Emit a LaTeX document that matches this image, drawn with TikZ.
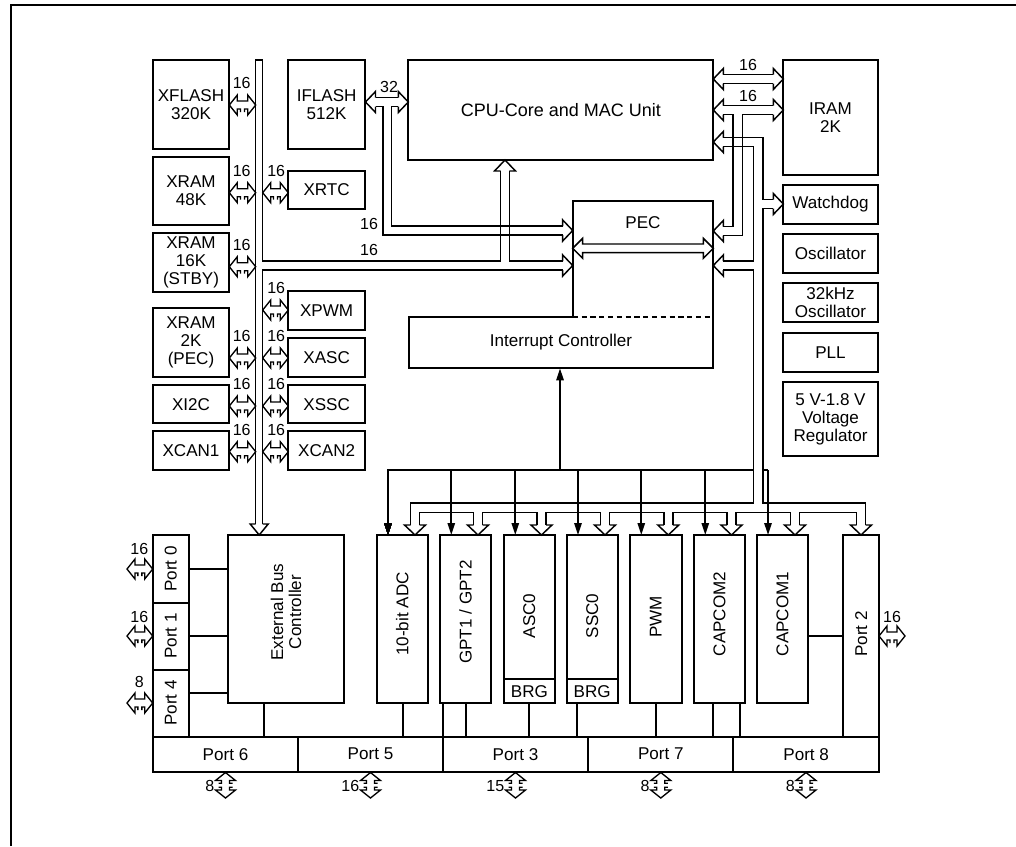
\documentclass[tikz,border=0pt]{standalone}
\usepackage{fontspec}
\setmainfont{Liberation Sans}
\usetikzlibrary{arrows.meta}
\newcommand\blk[6]{\node[blk,minimum width={((#4)-(#2))*0.75pt},minimum height={((#5)-(#3))*0.75pt}] (#1) at ({((#2)+(#4))/2},{((#3)+(#5))/2}) {#6};}
\newcommand\hdL[2]{\draw[bus] ({#1+10},{#2-4.5}) -- ({#1+10},{#2-10.5}) -- (#1,#2) -- ({#1+10},{#2+10.5}) -- ({#1+10},{#2+4.5});}
\newcommand\hdR[2]{\draw[bus] ({#1-10},{#2-4.5}) -- ({#1-10},{#2-10.5}) -- (#1,#2) -- ({#1-10},{#2+10.5}) -- ({#1-10},{#2+4.5});}
\newcommand\hdD[2]{\draw[bus] ({#1-4.5},{#2-10}) -- ({#1-10.5},{#2-10}) -- (#1,#2) -- ({#1+10.5},{#2-10}) -- ({#1+4.5},{#2-10});}
\newcommand\sah[3]{%
 \pgfmathsetmacro\sahm{(#1+#2)/2}
 \draw[sbus] ({\sahm-2},{#3+7}) -- ({\sahm-2},{#3+4}) -- ({#1+8},{#3+4}) -- ({#1+8},{#3+10}) -- (#1,#3) -- ({#1+8},{#3-10}) -- ({#1+8},{#3-4}) -- ({#2-8},{#3-4}) -- ({#2-8},{#3-10}) -- (#2,#3) -- ({#2-8},{#3+10}) -- ({#2-8},{#3+4}) -- ({\sahm+2},{#3+4}) -- ({\sahm+2},{#3+7});}
\newcommand\sav[3]{%
 \pgfmathsetmacro\savm{(#2+#3)/2}
 \draw[sbus] ({#1-7},{\savm-2}) -- ({#1-4},{\savm-2}) -- ({#1-4},{#2+8}) -- ({#1-10},{#2+8}) -- (#1,#2) -- ({#1+10},{#2+8}) -- ({#1+4},{#2+8}) -- ({#1+4},{\savm-2}) -- ({#1+7},{\savm-2});
 \draw[sbus] ({#1-7},{\savm+2}) -- ({#1-4},{\savm+2}) -- ({#1-4},{#3-8}) -- ({#1-10},{#3-8}) -- (#1,#3) -- ({#1+10},{#3-8}) -- ({#1+4},{#3-8}) -- ({#1+4},{\savm+2}) -- ({#1+7},{\savm+2});}
\begin{document}
\begin{tikzpicture}[x=0.75pt,y=-0.75pt,
  blk/.style={draw,line width=1.4pt,inner sep=0pt,outer sep=0pt,align=center,font=\fontsize{12.8}{13.4}\selectfont},
  nobox/.style={inner sep=0pt,align=center,font=\fontsize{12.8}{13.4}\selectfont},
  rot/.style={rotate=90,inner sep=0pt,align=center,font=\fontsize{12.8}{13.4}\selectfont},
  boxline/.style={line width=1.4pt},
  bus/.style={line width=1.1pt,line join=miter},
  sbus/.style={line width=1pt,line join=miter},
  lnk/.style={line width=1.3pt},
  irq/.style={line width=1.3pt,-{Triangle[length=9pt,width=5.5pt]}},
  lbl/.style={inner sep=0pt,font=\fontsize{12}{13}\selectfont}]
\useasboundingbox (0,0) rectangle (1016,846);
% frame
\draw[line width=1.5pt] (10.5,846) -- (10.5,5) -- (1016,5);
% left column
\blk{xflash}{152.7}{60}{229.3}{149}{XFLASH\\320K}
\blk{xram48}{152.7}{156.7}{229.3}{225}{XRAM\\48K}
\blk{xram16}{152.7}{232.7}{229.3}{291.7}{XRAM\\16K\\(STBY)}
\blk{xram2}{152.7}{308.3}{229.3}{376.7}{XRAM\\2K\\(PEC)}
\blk{xitc}{152.7}{385}{229.3}{423.3}{XI2C}
\blk{xcan1}{152.7}{431}{229.3}{470}{XCAN1}
% second column
\blk{iflash}{288.3}{60}{365}{149}{IFLASH\\512K}
\blk{xrtc}{288.3}{170.7}{365}{209.3}{XRTC}
\blk{xpwm}{288.3}{290.7}{365}{330}{XPWM}
\blk{xasc}{288.3}{337.7}{365}{376.7}{XASC}
\blk{xssc}{288.3}{385}{365}{423.3}{XSSC}
\blk{xcan2}{288.3}{431}{365}{470}{XCAN2}
% CPU, PEC, IC
\blk{cpu}{408.3}{60}{713.3}{160}{\fontsize{13.5}{14}\selectfont CPU-Core and MAC Unit}
\draw[boxline] (572.7,316.7) -- (572.7,200.7) -- (713.3,200.7) -- (713.3,368.3) -- (409,368.3) -- (409,316.7) -- cycle;
\draw[boxline,dash pattern=on 4pt off 2.6pt] (572.7,316.7) -- (713.3,316.7);
\node[nobox] (pec) at (643,222.7) {PEC};
\node[nobox] (ic) at (561,342.5) {Interrupt Controller};
\coordinate (icb) at (560,368.3);
% right column
\blk{iram}{783.3}{60}{877.7}{175}{IRAM\\2K}
\blk{wdt}{783.3}{185}{877.7}{224}{Watchdog}
\blk{osc}{783.3}{234}{877.7}{273}{Oscillator}
\blk{osc32}{783.3}{283}{877.7}{322}{\fontsize{12.8}{11}\selectfont 32kHz\\Oscillator}
\blk{pll}{783.3}{333}{877.7}{372}{PLL}
\blk{vreg}{783.3}{382}{877.7}{456}{5 V-1.8 V\\Voltage\\Regulator}
% peripherals
\blk{adc}{376.7}{535}{427.7}{703.3}{}
\blk{gpt}{440}{535}{491}{703.3}{}
\blk{asc}{504}{535}{554.7}{703.3}{}
\blk{ascbrg}{504}{679}{554.7}{703.3}{BRG}
\blk{ssc}{566.7}{535}{617.7}{703.3}{}
\blk{sscbrg}{566.7}{679}{617.7}{703.3}{BRG}
\blk{pwm}{630}{535}{681.7}{703.3}{}
\blk{cc2}{694}{535}{745}{703.3}{}
\blk{cc1}{756.7}{535}{808.3}{703.3}{}
\blk{p2}{843.3}{535}{879}{736.7}{}
\blk{ebc}{227.7}{535}{344.3}{703.3}{}
\blk{p0}{152.7}{535}{189}{602.7}{}
\blk{p1}{152.7}{602.7}{189}{670}{}
\blk{p4}{152.7}{670}{189}{736.7}{}
\node[rot] at (402.2,614) {10-bit ADC};
\node[rot] at (465.5,612) {GPT1 / GPT2};
\node[rot] at (529.3,616) {ASC0};
\node[rot] at (592.2,616) {SSC0};
\node[rot] at (655.8,617) {PWM};
\node[rot] at (719.5,614) {CAPCOM2};
\node[rot] at (782.5,614) {CAPCOM1};
\node[rot] at (861.2,634) {Port 2};
\node[rot] at (286,612) {External Bus\\Controller};
\node[rot] at (170.8,569) {Port 0};
\node[rot] at (170.8,636) {Port 1};
\node[rot] at (170.8,703) {Port 4};
% bottom port row
\blk{p6}{152.7}{736.7}{298.3}{771.7}{Port 6}
\blk{p5}{298.3}{736.7}{442.7}{771.7}{Port 5}
\blk{p3}{442.7}{736.7}{588.3}{771.7}{Port 3}
\blk{p7}{588.3}{736.7}{733.3}{771.7}{Port 7}
\blk{p8}{733.3}{736.7}{879}{771.7}{Port 8}
% links to ports
\draw[lnk] (p0.east |- 0,569) -- (ebc.west |- 0,569);
\draw[lnk] (p1.east |- 0,636) -- (ebc.west |- 0,636);
\draw[lnk] (p4.east |- 0,693) -- (ebc.west |- 0,693);
\draw[lnk] (ebc.south -| 264,0) -- (p6.north -| 264,0);
\draw[lnk] (adc.south -| 402.7,0) -- (p5.north -| 402.7,0);
\draw[lnk] (gpt.south -| 442.7,0) -- (p3.north -| 442.7,0);
\draw[lnk] (gpt.south -| 465.7,0) -- (p3.north -| 465.7,0);
\draw[lnk] (asc.south -| 529,0) -- (p3.north -| 529,0);
\draw[lnk] (ssc.south -| 576.7,0) -- (p3.north -| 576.7,0);
\draw[lnk] (pwm.south -| 656,0) -- (p7.north -| 656,0);
\draw[lnk] (cc2.south -| 713.3,0) -- (p7.north -| 713.3,0);
\draw[lnk] (cc2.south -| 740,0) -- (p8.north -| 740,0);
\draw[lnk] (cc1.east |- 0,636) -- (p2.west |- 0,636);
% left external bus
\draw[bus] (255.7,524) -- (255.7,60) -- (262.7,60) -- (262.7,261) -- (500.7,261) -- (500.7,171);
\draw[bus] (509.3,171) -- (509.3,261) -- (563,261);
\draw[bus] (563,270) -- (262.7,270) -- (262.7,524);
\draw[bus] (255.7,524) -- (250.2,524) -- (259.2,535) -- (268.2,524) -- (262.7,524);
\draw[bus] (500.7,171) -- (494.5,171) -- (505,160) -- (515.5,171) -- (509.3,171);
\hdR{572.7}{265.5}
% 32-bit bus IFLASH/CPU
\hdL{365.5}{102}
\hdR{408.3}{102}
\draw[bus] (375.5,97.5) -- (398.3,97.5);
\draw[bus] (375.5,106.5) -- (383,106.5) -- (383,235) -- (562.7,235);
\draw[bus] (398.3,106.5) -- (391.5,106.5) -- (391.5,226) -- (562.7,226);
\hdR{572.7}{230.5}
\node[lbl] (l32) at (389,87) {32};
\node[lbl] (l16a) at (369,224) {16};
\node[lbl] (l16b) at (369,250) {16};
% PEC internal
\draw[bus] (572.7,248.3) -- (582.7,238.3) -- (582.7,244) -- (703.3,244) -- (703.3,238.3) -- (713.3,248.3) -- (703.3,258.3) -- (703.3,252.6) -- (582.7,252.6) -- (582.7,258.3) -- cycle;
% right buses
\hdL{713.3}{79}
\hdR{783.3}{79}
\draw[bus] (723.3,74.5) -- (773.3,74.5);
\draw[bus] (723.3,83.5) -- (773.3,83.5);
\node[lbl] (l16c) at (748,65) {16};
\hdL{713.3}{110}
\hdR{783.3}{110}
\draw[bus] (723.3,105.5) -- (773.3,105.5);
\draw[bus] (723.3,114.5) -- (733,114.5) -- (733,226.5) -- (723.3,226.5);
\draw[bus] (773.3,114.5) -- (742.5,114.5) -- (742.5,235.5) -- (723.3,235.5);
\hdL{713.3}{231}
\node[lbl] (l16d) at (748,96) {16};
\hdL{713.3}{142}
\draw[bus] (723.3,137.5) -- (763,137.5) -- (763,199.5) -- (773.3,199.5);
\draw[bus] (723.3,146.5) -- (753.5,146.5) -- (753.5,261) -- (723.3,261);
\hdR{783.3}{204}
\hdL{713.3}{265.5}
% peripheral bus
\draw[bus] (410.5,525) -- (410.5,503) -- (753.5,503) -- (753.5,270) -- (723.3,270);
\draw[bus] (865.5,525) -- (865.5,503) -- (763,503) -- (763,208.5) -- (773.3,208.5);
\foreach \a/\b in {415/478,478/541.5,541.5/605,605/668.3,668.3/731.5,731.5/795,795/861}
  \draw[bus] ({\a+4.5},525) -- ({\a+4.5},512.5) -- ({\b-4.5},512.5) -- ({\b-4.5},525);
\foreach \c in {415,478,541.5,605,668.3,731.5,795,861} \hdD{\c}{535}
% interrupt lines
\draw[irq] (753.5,470) -- (388,470) -- (388,535);
\draw[lnk] (763,470) -- (768,470);
\foreach \c in {451.3,515.3,578,641.3,705.3,768} \draw[irq] (\c,470) -- (\c,535);
\draw[irq] (560,470) -- (icb);
% small bus arrows, left of bus
\foreach \y/\n in {105/a,192.7/b,266.7/c,358/d,406/e,451.7/f} {
  \sah{229.3}{255.7}{\y}
  \node[lbl] (ll\n) at (241.7,\y-22) {16};
}
\foreach \y/\n in {192.7/a,310/b,358/c,406/d,451.7/e} {
  \sah{262.7}{288.3}{\y}
  \node[lbl] (lr\n) at (276.2,\y-22) {16};
}
% port arrows
\sah{127}{152.7}{569}
\node[lbl] (lp0) at (139.3,549.3) {16};
\sah{127}{152.7}{636}
\node[lbl] (lp1) at (139.3,616.7) {16};
\sah{127}{152.7}{703}
\node[lbl] (lp4) at (139.3,682.3) {8};
\sah{879}{905}{636}
\node[lbl] (lp2) at (892,616.7) {16};
\foreach \x/\t/\n in {225.5/8/a,370.5/16/b,515.5/15/c,660.8/8/d,806/8/e} {
  \sav{\x}{772.5}{798}
  \node[lbl,anchor=east] (lb\n) at (\x-11,786) {\t};
}
\end{tikzpicture}
\end{document}
